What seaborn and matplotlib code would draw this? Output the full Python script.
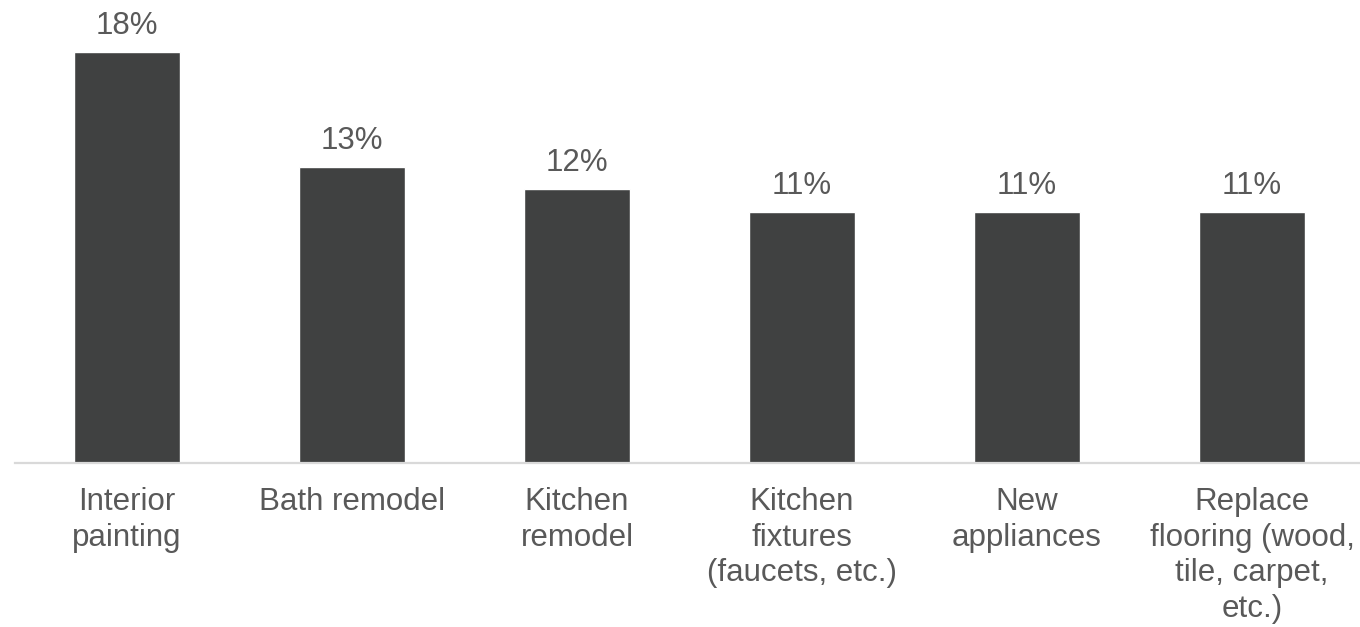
import matplotlib
matplotlib.use("Agg")
import matplotlib.pyplot as plt
import seaborn as sns
import pandas as pd

# Share of homeowners planning each project
categories = [
    "Interior\npainting",
    "Bath remodel",
    "Kitchen\nremodel",
    "Kitchen\nfixtures\n(faucets, etc.)",
    "New\nappliances",
    "Replace\nflooring (wood,\ntile, carpet,\netc.)",
]
values = [18, 13, 12, 11, 11, 11]

df = pd.DataFrame({"project": categories, "share": values})

sns.set_theme(style="white")
plt.rcParams["font.family"] = ["Liberation Sans", "DejaVu Sans"]

text_color = "#595959"
bar_color = "#404141"

fig = plt.figure(figsize=(13.6, 6.27), dpi=100)
ax = fig.add_axes([14.5 / 1360, 0.2608, 1350 / 1360, 0.7283])

sns.barplot(data=df, x="project", y="share", color=bar_color,
            width=0.467, saturation=1, ax=ax)

ax.set_xlim(-0.5, 5.5)
ax.set_ylim(0, 20)
ax.set_xlabel("")
ax.set_ylabel("")
ax.set_yticks([])

for side in ["top", "right", "left"]:
    ax.spines[side].set_visible(False)
ax.spines["bottom"].set_color("#d9d9d9")
ax.spines["bottom"].set_linewidth(1.6)

ax.tick_params(axis="x", length=0, pad=17, labelsize=22.5, labelcolor=text_color)
for lbl in ax.get_xticklabels():
    lbl.set_linespacing(1.24)
    lbl.set_multialignment("center")

for container in ax.containers:
    ax.bar_label(container, labels=[f"{v}%" for v in values],
                 padding=8, fontsize=22.5, color=text_color)

fig.savefig("out.png", dpi=100, facecolor="white")
